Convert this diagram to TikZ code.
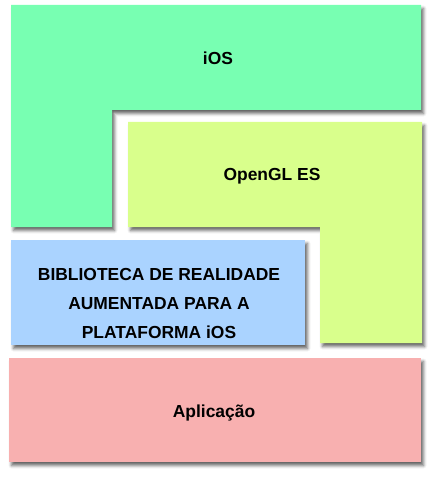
\documentclass[tikz,border=0pt]{standalone}
\usepackage{fontspec}
\setmainfont{Liberation Sans}
\usetikzlibrary{shadows.blur}
\definecolor{iosgreen}{RGB}{120,255,178}
\definecolor{glyellow}{RGB}{217,255,140}
\definecolor{libblue}{RGB}{170,211,255}
\definecolor{apppink}{RGB}{248,176,176}
\tikzset{
  layer/.style={draw=none, blur shadow={shadow xshift=2.5bp, shadow yshift=-3.5bp, shadow blur radius=3bp, shadow opacity=60}},
  lbl/.style={font=\fontsize{17.5}{29}\selectfont\bfseries, text=black, align=center, inner sep=0pt}
}
\begin{document}
\begin{tikzpicture}[x=1bp, y=-1bp]
\useasboundingbox (0,0) rectangle (431,477);
% iOS L-shape
\path[layer, fill=iosgreen] (11,5) -- (421,5) -- (421,110) -- (112,110) -- (112,227) -- (11,227) -- cycle;
% OpenGL ES L-shape
\path[layer, fill=glyellow] (128,122) -- (422,122) -- (422,343) -- (320,343) -- (320,227) -- (128,227) -- cycle;
% Library box
\path[layer, fill=libblue] (11,240) rectangle (305,345);
% Application box
\path[layer, fill=apppink] (9,358) rectangle (421,462);
\node[lbl] (ios) at (218,58) {iOS};
\node[lbl] (gl) at (272,176) {OpenGL ES};
\node[lbl] (lib) at (159,303.5) {BIBLIOTECA DE REALIDADE\\AUMENTADA PARA A\\PLATAFORMA iOS};
\node[lbl] (app) at (214,413) {Aplicação};
\end{tikzpicture}
\end{document}
